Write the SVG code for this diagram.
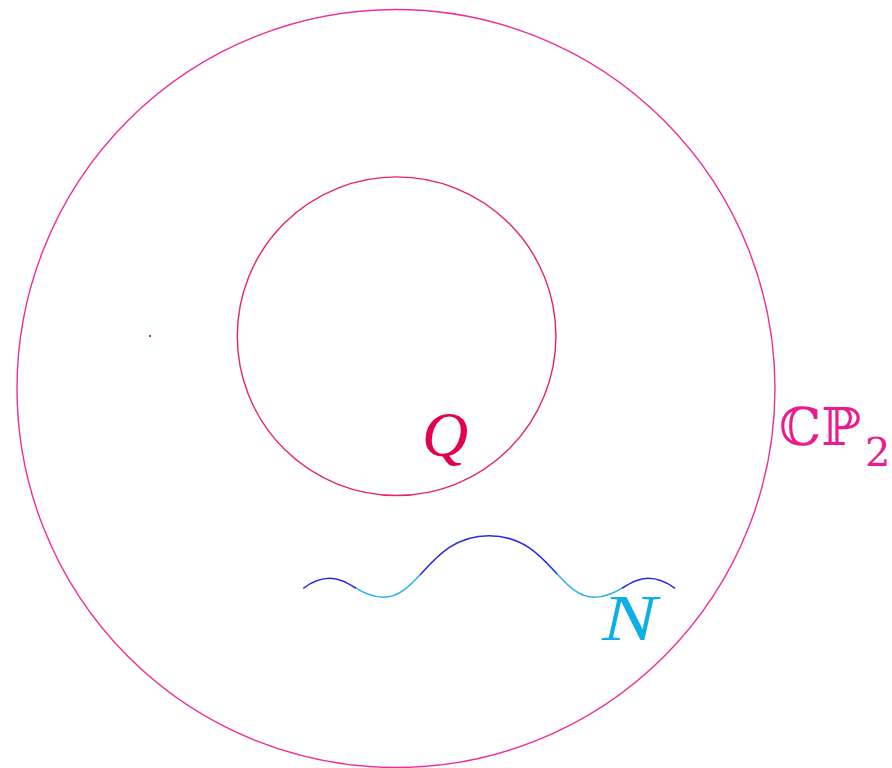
<svg xmlns="http://www.w3.org/2000/svg" width="892" height="768" viewBox="0 0 892 768">
  <style>
    .outer { fill: none; stroke: #ec2e9a; stroke-width: 1.4; }
    .inner { fill: none; stroke: #e5236a; stroke-width: 1.4; }
    .wave { fill: none; stroke-width: 1.6; }
    .dark { stroke: #2b2be6; }
    .light { stroke: #2fb3ea; }
    .lbl { font-family: "Liberation Serif", "DejaVu Serif", serif; font-style: italic; }
    .cp { font-family: "DejaVu Serif", "Liberation Serif", serif; fill: #ec1a8f; }
  </style>
  <defs>
    <clipPath id="darkClip">
      <rect x="0" y="0" width="356" height="768"/>
      <rect x="420" y="0" width="137" height="768"/>
      <rect x="622" y="0" width="270" height="768"/>
    </clipPath>
    <clipPath id="lightClip">
      <rect x="356" y="0" width="64" height="768"/>
      <rect x="557" y="0" width="65" height="768"/>
    </clipPath>
    <path id="wavePath" d="M303.3,588.3 C311,582.5 320,578.3 330,578.3 C349,578.3 361,597.3 383.3,597.3 C420,597.3 430,535.7 489,535.7 C548,535.7 558,597.3 594.7,597.3 C617,597.3 629,578.3 648,578.3 C658,578.3 667,582.5 675,588.3"/>
  </defs>

  <g id="outer-circle">
    <circle class="outer" cx="396" cy="388.5" r="379"/>
  </g>
  <g id="inner-circle">
    <circle class="inner" cx="396.6" cy="336.2" r="159.3"/>
  </g>
  <g id="dot">
    <rect x="149" y="335" width="2" height="2" fill="#f0148c"/>
  </g>

  <g id="connectors">
    <use href="#wavePath" class="wave dark" clip-path="url(#darkClip)"/>
    <use href="#wavePath" class="wave light" clip-path="url(#lightClip)"/>
  </g>

  <g id="label-Q">
    <text class="lbl" x="422" y="456" font-size="64" fill="#e4004f">Q</text>
  </g>
  <g id="label-CP2">
    <text class="cp" x="779" y="445" font-size="52" textLength="82" lengthAdjust="spacingAndGlyphs">ℂℙ</text>
    <text class="cp" x="865" y="466" font-size="40">2</text>
  </g>
  <g id="label-N">
    <text class="lbl" x="602" y="640" font-size="65" fill="#0eaee9" textLength="55" lengthAdjust="spacingAndGlyphs">N</text>
  </g>
</svg>
